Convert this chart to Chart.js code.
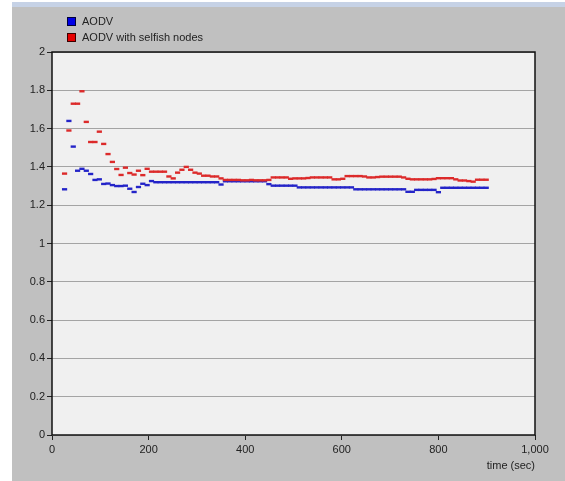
<!DOCTYPE html>
<html>
<head>
<meta charset="utf-8">
<script src="https://cdn.jsdelivr.net/npm/chart.js@4"></script>
<style>
  html, body { margin: 0; padding: 0; background: #fff; }
  #panel {
    position: absolute; left: 12px; top: 2px; width: 553px; height: 479px;
    background: #c0c0c0; border-top: 5px solid #c6d2e6; box-sizing: border-box;
  }
  #wrap { position: absolute; left: 0; top: 0; width: 565px; height: 481px; }
  .leg { position: absolute; left: 67px; font: 11px "Liberation Sans", Arial, sans-serif; color: #222; white-space: nowrap; }
  .leg span { display: inline-block; width: 7px; height: 7px; margin-right: 6px; vertical-align: -1px; }
</style>
</head>
<body>
<div id="panel"></div>
<div id="wrap"><canvas id="chart" width="565" height="481"></canvas></div>
<div class="leg" style="top:15px"><span style="background:#0000e6;border:1px solid #00003a"></span>AODV</div>
<div class="leg" style="top:31px"><span style="background:#e60000;border:1px solid #3a0000"></span>AODV with selfish nodes</div>
<script>
// sample times (sec)
const times = [26, 35, 44, 53, 62, 71, 80, 89, 98, 107, 116, 125, 134, 143, 152, 161, 170, 179, 188, 197,
  206, 215, 224, 233, 242, 251, 260, 269, 278, 287, 296, 305, 314, 323, 332, 341, 350, 359, 368, 377,
  386, 395, 404, 413, 422, 431, 440, 449, 458, 467, 476, 485, 494, 503, 512, 521, 530, 539, 548, 557,
  566, 575, 584, 593, 602, 611, 620, 629, 638, 647, 656, 665, 674, 683, 692, 701, 710, 719, 728, 737,
  746, 755, 764, 773, 782, 791, 800, 809, 818, 827, 836, 845, 854, 863, 872, 881, 890, 899];

const aodv = [1.283, 1.64, 1.506, 1.38, 1.39, 1.38, 1.363, 1.332, 1.335, 1.311,
  1.313, 1.305, 1.30, 1.30, 1.302, 1.286, 1.269, 1.295, 1.312, 1.305,
  1.326, 1.32, 1.32, 1.32, 1.32, 1.32, 1.32, 1.32, 1.32, 1.32,
  1.32, 1.32, 1.32, 1.32, 1.32, 1.32, 1.308, 1.325, 1.325, 1.325,
  1.325, 1.325, 1.325, 1.325, 1.325, 1.325, 1.325, 1.31, 1.302, 1.302,
  1.302, 1.302, 1.302, 1.302, 1.293, 1.293, 1.293, 1.293, 1.293, 1.293,
  1.293, 1.293, 1.293, 1.293, 1.293, 1.293, 1.293, 1.283, 1.283, 1.283,
  1.283, 1.283, 1.283, 1.283, 1.283, 1.283, 1.283, 1.283, 1.283, 1.27,
  1.27, 1.28, 1.28, 1.28, 1.28, 1.28, 1.268, 1.291, 1.291, 1.291,
  1.291, 1.291, 1.291, 1.291, 1.291, 1.291, 1.291, 1.291];

const aodvSelfish = [1.365, 1.59, 1.73, 1.73, 1.795, 1.635, 1.53, 1.53, 1.584, 1.52,
  1.467, 1.426, 1.389, 1.358, 1.396, 1.368, 1.36, 1.38, 1.357, 1.39,
  1.375, 1.375, 1.375, 1.375, 1.35, 1.34, 1.37, 1.385, 1.4, 1.385,
  1.37, 1.365, 1.354, 1.354, 1.35, 1.35, 1.34, 1.332, 1.332, 1.332,
  1.332, 1.33, 1.33, 1.332, 1.33, 1.33, 1.33, 1.332, 1.345, 1.345,
  1.345, 1.345, 1.338, 1.34, 1.34, 1.34, 1.342, 1.345, 1.345, 1.345,
  1.345, 1.345, 1.335, 1.335, 1.338, 1.352, 1.352, 1.352, 1.352, 1.35,
  1.345, 1.345, 1.347, 1.349, 1.349, 1.349, 1.349, 1.349, 1.345, 1.338,
  1.335, 1.335, 1.335, 1.335, 1.335, 1.337, 1.341, 1.341, 1.341, 1.341,
  1.335, 1.329, 1.329, 1.326, 1.323, 1.333, 1.333, 1.333];

const xTicks = [0, 200, 400, 600, 800, 1000];
const yTicks = [0, 0.2, 0.4, 0.6, 0.8, 1, 1.2, 1.4, 1.6, 1.8, 2];

const toPoints = (vals) => vals.map((v, i) => ({ x: times[i], y: v }));

// fond de la zone de tracé + cadre noir
const plotFrame = {
  id: "plotFrame",
  beforeDraw(chart) {
    const { ctx, chartArea: a } = chart;
    ctx.save();
    ctx.fillStyle = "#f0f0f0";
    ctx.fillRect(a.left, a.top, a.right - a.left, a.bottom - a.top);
    ctx.restore();
  },
  afterDraw(chart) {
    const { ctx, chartArea: a } = chart;
    ctx.save();
    ctx.strokeStyle = "#111";
    ctx.lineWidth = 1.5;
    ctx.strokeRect(a.left, a.top, a.right - a.left, a.bottom - a.top);
    ctx.restore();
  },
};

const font = { family: "'Liberation Sans', Arial, sans-serif", size: 11 };

new Chart(document.getElementById("chart"), {
  type: "scatter",
  data: {
    datasets: [
      {
        label: "AODV",
        data: toPoints(aodv),
        pointStyle: "line",
        pointRadius: 2.6,
        pointBorderWidth: 2.4,
        borderColor: "#2424c8",
        backgroundColor: "#2424c8",
        order: 1,
      },
      {
        label: "AODV with selfish nodes",
        data: toPoints(aodvSelfish),
        pointStyle: "line",
        pointRadius: 2.6,
        pointBorderWidth: 2.4,
        borderColor: "#dc2a2a",
        backgroundColor: "#dc2a2a",
        order: 0,
      },
    ],
  },
  options: {
    responsive: false,
    animation: false,
    events: [],
    layout: { padding: { left: 12, right: 30, top: 52, bottom: 0 } },
    plugins: { legend: { display: false }, tooltip: { enabled: false } },
    scales: {
      x: {
        type: "linear",
        min: 0,
        max: 1000,
        afterFit: (s) => { s.height = 46; },
        afterBuildTicks: (s) => { s.ticks = xTicks.map((v) => ({ value: v })); },
        ticks: { color: "#222", font, padding: 3, maxRotation: 0 },
        grid: { drawOnChartArea: false, tickLength: 5, tickColor: "#222" },
        border: { display: false },
        title: {
          display: true,
          text: "time (sec)",
          align: "end",
          color: "#222",
          font,
          padding: { top: 0, bottom: 8 },
        },
      },
      y: {
        min: 0,
        max: 2,
        afterFit: (s) => { s.width = 40; },
        afterBuildTicks: (s) => { s.ticks = yTicks.map((v) => ({ value: v })); },
        ticks: { color: "#222", font, padding: 2, callback: (v) => String(Number(v.toFixed(1))) },
        grid: { color: "#a4a4a4", tickLength: 5, tickColor: "#222", lineWidth: 1 },
        border: { display: false },
      },
    },
  },
  plugins: [plotFrame],
});
</script>
</body>
</html>
